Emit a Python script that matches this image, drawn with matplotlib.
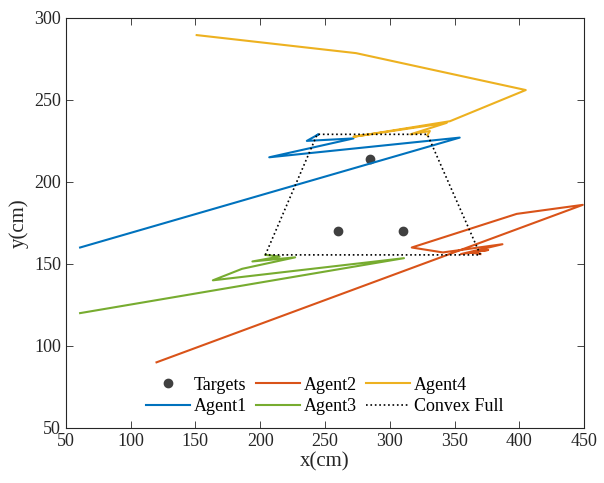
import matplotlib
matplotlib.use("Agg")
import matplotlib.pyplot as plt
import numpy as np

# target positions
targets_x = [260, 310, 285]
targets_y = [170, 170, 214]

# agent trajectories (cm)
agent1_x = [61, 354, 207, 272, 236, 245, 244]
agent1_y = [160, 227, 215, 226.5, 225, 229, 228.5]

agent2_x = [120, 449, 398, 317, 341, 387, 355, 376, 362, 370]
agent2_y = [90, 186, 180.5, 160, 157, 162, 156, 158.5, 157, 156]

agent3_x = [61, 311, 163.5, 186, 227, 194, 215, 204]
agent3_y = [120, 153.5, 140, 147, 154, 151.5, 154.5, 155.5]

agent4_x = [151, 274, 405, 346.5, 272, 344, 316, 331, 329]
agent4_y = [289.5, 278.5, 256, 237, 227.5, 236, 229, 231, 228.5]

# convex hull of the final positions
hull_x = [204, 244, 329, 370, 204]
hull_y = [155.5, 229, 229, 155.5, 155.5]

plt.rcParams['font.family'] = ['Liberation Serif', 'DejaVu Serif']

fig = plt.figure(figsize=(6.04, 4.83), dpi=100)
ax = fig.add_axes([0.109, 0.114, 0.858, 0.849])

ax.plot(targets_x, targets_y, 'o', color='#404040', markersize=6, label='Targets')
ax.plot(agent1_x, agent1_y, color='#0072BD', lw=1.5, label='Agent1')
ax.plot(agent2_x, agent2_y, color='#D95319', lw=1.5, label='Agent2')
ax.plot(agent3_x, agent3_y, color='#77AC30', lw=1.5, label='Agent3')
ax.plot(agent4_x, agent4_y, color='#EDB120', lw=1.5, label='Agent4')
ax.plot(hull_x, hull_y, ':', color='black', lw=1.2, label='Convex Full')

ax.set_xlim(50, 450)
ax.set_ylim(50, 300)
ax.set_xticks(np.arange(50, 451, 50))
ax.set_yticks(np.arange(50, 301, 50))
ax.tick_params(direction='in', top=True, right=True, labelsize=13, length=5,
               width=0.6, color='#262626', labelcolor='#262626')
for s in ax.spines.values():
    s.set_linewidth(0.8)
    s.set_color('#262626')

ax.set_xlabel('x(cm)', fontsize=15, color='#262626', labelpad=2)
ax.set_ylabel('y(cm)', fontsize=15, color='#262626', labelpad=4)

ax.legend(loc='lower center', ncol=3, frameon=False, fontsize=13,
          handlelength=2.4, handletextpad=0.25, columnspacing=0.5,
          labelspacing=0.25, borderaxespad=0.3)

fig.savefig('out.png', dpi=100)
